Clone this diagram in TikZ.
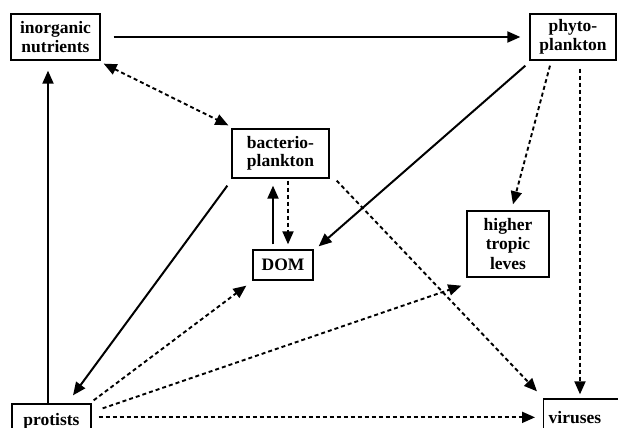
\documentclass[tikz,border=0pt]{standalone}
\usepackage{fontspec}
\setmainfont{Liberation Serif}
\usetikzlibrary{arrows.meta,calc}
\begin{document}
\begin{tikzpicture}[x=1pt,y=-1pt,
  box/.style={draw,line width=1.3pt,align=center,inner sep=2pt,
    font=\bfseries\fontsize{17.5}{18.5}\selectfont},
  tip/.style={-{Triangle[length=13pt,width=11pt]}},
  sol/.style={line width=2pt,tip},
  dsh/.style={line width=1.9pt,dash pattern=on 4pt off 3pt,tip},
  dshb/.style={line width=1.9pt,dash pattern=on 4pt off 3pt,{Triangle[length=13pt,width=11pt]}-{Triangle[length=13pt,width=11pt]}}]
\useasboundingbox (0,0) rectangle (618,428);
\clip (0,0) rectangle (618,428);
\node[box,minimum width=89pt,minimum height=46pt] (inorg) at (55.5,37) {inorganic\\nutrients};
\node[box,minimum width=86pt,minimum height=46pt] (phyto) at (573,37) {phyto-\\plankton};
\node[box,minimum width=97pt,minimum height=49pt] (bact) at (280.5,153.5) {bacterio-\\plankton};
\node[box,minimum width=60pt,minimum height=30pt] (dom) at (283,265) {DOM};
\node[box,minimum width=82pt,minimum height=66pt,font=\bfseries\fontsize{17.5}{19.5}\selectfont] (higher) at (508,244) {higher\\tropic\\leves};
\node[box,anchor=base,text height=12pt,text depth=4pt,inner ysep=9pt,minimum width=79pt] (prot) at (51.5,425) {protists};
\node[box,anchor=base west,text height=12pt,text depth=4pt,inner ysep=12pt,inner xsep=5pt,text width=80pt,align=left] (vir) at (543,423) {viruses};
% connectors
\draw[sol] ($(inorg.east)+(13,0)$) -- ($(phyto.west)+(-9,0)$);
\draw[sol] ($(prot.north)+(-3.5,0)$) -- ($(inorg.south)+(-7.5,10)$);
\draw[dshb] ($(inorg.south east)+(3,3)$) -- ($(bact.north west)+(-3,-3)$);
\draw[sol] ($(phyto.south west)+(-4,5)$) -- ($(dom.north east)+(5,-3)$);
\draw[dsh] ($(phyto.south)+(-23,5)$) -- ($(higher.north)+(5,-6)$);
\draw[dsh] ($(phyto.south)+(7,8)$) -- ($(vir.north west)+(37,-4)$);
\draw[sol] ($(bact.south west)+(-4,7)$) -- ($(prot.north)+(21.5,-8)$);
\draw[sol] ($(dom.north)+(-10,-5)$) -- ($(bact.south)+(-7.5,7)$);
\draw[dsh] ($(bact.south)+(7.5,2)$) -- ($(dom.north)+(5,-5)$);
\draw[dsh] ($(bact.south east)+(7,2)$) -- ($(vir.north west)+(-6,-7)$);
\draw[dsh] ($(prot.north east)+(2,-3)$) -- ($(dom.south west)+(-6,5)$);
\draw[dsh] ($(prot.north east)+(11,5)$) -- ($(higher.south west)+(-5,8)$);
\draw[dsh] ($(prot.north east)+(7,14)$) -- ($(vir.north west)+(-8,19)$);
\end{tikzpicture}
\end{document}
